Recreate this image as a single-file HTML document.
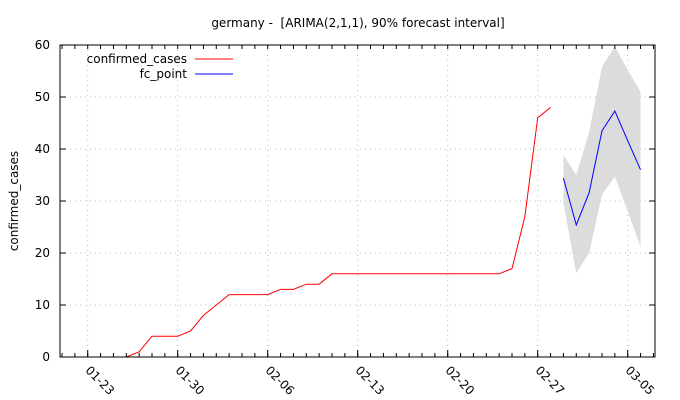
<!DOCTYPE html>
<html><head><meta charset="utf-8"><style>
body{margin:0;background:#fff;}
svg{display:block;font-family:"DejaVu Sans","Liberation Sans",sans-serif;}
</style></head><body>
<svg id="chart" width="680" height="400" xmlns="http://www.w3.org/2000/svg">
<text x="358" y="27" font-size="12" text-anchor="middle">germany - &#160;[ARIMA(2,1,1), 90% forecast interval]</text>
<text transform="translate(18,201) rotate(-90)" font-size="12" text-anchor="middle">confirmed_cases</text>
<g id="grid"></g><g id="band"></g><g id="lines"></g><g id="axes"></g>
<g font-size="12">
<text x="187" y="63" text-anchor="end">confirmed_cases</text>
<line x1="195" y1="59" x2="233" y2="59" stroke="#f00"/>
<text x="187" y="78" text-anchor="end">fc_point</text>
<line x1="195" y1="74" x2="233" y2="74" stroke="#00f"/>
</g>
</svg>
<script>
const confirmed = [0,0,0,0,0,0,1,4,4,4,5,8,10,12,12,12,12,13,13,14,14,16,16,16,16,16,16,16,16,16,16,16,16,16,16,17,27,46,48];
const fcPoint = [34.4,25.4,31.6,43.5,47.3,41.6,36];
const fcUpper = [38.8,35,43.3,55.8,59.7,55.2,51];
const fcLower = [29.6,16.1,20,31.2,34.7,28,21.2];
const fcStart = 39;
const yTicks = [0,10,20,30,40,50,60];
const xTickLabels = ["01-23","01-30","02-06","02-13","02-20","02-27","03-05"];
const xTickDays = [2,9,16,23,30,37,44];
const NS="http://www.w3.org/2000/svg";
const L=60,R=655,T=45,B=357;
const x=d=>62+d*12.857;
const y=v=>B-(v/60)*(B-T);
function mk(tag,attrs,parent){const e=document.createElementNS(NS,tag);for(const k in attrs)e.setAttribute(k,attrs[k]);document.getElementById(parent).appendChild(e);return e;}
yTicks.forEach(v=>{
 const g=mk('line',{x1:L,x2:R,y1:y(v),y2:y(v),stroke:'#bbb','stroke-dasharray':'1,4'},'grid');
 
 
 const t=mk('line',{x1:L,x2:L+6,y1:y(v),y2:y(v),stroke:'#000'},'axes');
 
 
 const t2=mk('line',{x1:R-6,x2:R,y1:y(v),y2:y(v),stroke:'#000'},'axes');
 
 
 const lb=mk('text',{x:L-10,y:y(v)+4,'font-size':12,'text-anchor':'end'},'axes');lb.textContent=v;
 
 
});
for(let d=0;d<=46;d++){
 const a=mk('line',{x1:x(d),x2:x(d),y1:B,y2:B-4,stroke:'#000'},'axes');
 
 
 const b=mk('line',{x1:x(d),x2:x(d),y1:T,y2:T+4,stroke:'#000'},'axes');
 
 
}
xTickDays.forEach((d,i)=>{
 const g=mk('line',{x1:x(d),x2:x(d),y1:T,y2:B,stroke:'#bbb','stroke-dasharray':'1,4'},'grid');
 
 
 const t=mk('line',{x1:x(d),x2:x(d),y1:B,y2:B-7,stroke:'#000'},'axes');
 
 
 const lb=mk('text',{x:0,y:0,'font-size':12,transform:`translate(${x(d)-3},${B+14}) rotate(45)`},'axes');lb.textContent=xTickLabels[i];
 
 
});
const fr=mk('rect',{x:L,y:T,width:R-L,height:B-T,fill:'none',stroke:'#000'},'axes');


let up=fcUpper.map((v,i)=>x(fcStart+i)+','+y(v));
let lo=fcLower.map((v,i)=>x(fcStart+i)+','+y(v)).reverse();
const band=mk('polygon',{points:up.concat(lo).join(' '),fill:'#dcdcdc'},'band');


const c=mk('polyline',{points:confirmed.map((v,i)=>x(i)+','+y(v)).slice(5).join(' '),fill:'none',stroke:'#f00'},'lines');


const f=mk('polyline',{points:fcPoint.map((v,i)=>x(fcStart+i)+','+y(v)).join(' '),fill:'none',stroke:'#00f'},'lines');


</script>
</body></html>
